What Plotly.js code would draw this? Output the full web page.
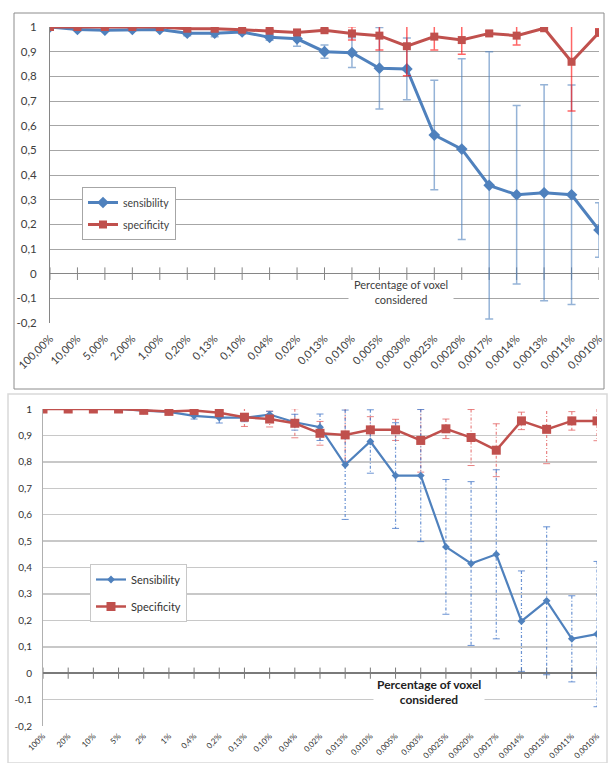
<!DOCTYPE html>
<html>
<head>
<meta charset="utf-8">
<script src="https://cdn.plot.ly/plotly-3.0.1.min.js"></script>
<style>html,body{margin:0;padding:0;background:#fff}#chart{width:608px;height:763px}</style>
</head>
<body>
<div id="chart"></div>
<script>
// ---------- Top chart data ----------
const topCategories = ['100,00%','10,00%','5,00%','2,00%','1,00%','0,20%','0,13%','0,10%','0,04%','0,02%','0,013%','0,010%','0,005%','0,0030%','0,0025%','0,0020%','0,0017%','0,0014%','0,0013%','0,0011%','0,0010%'];
const topSensibility = [1, 0.99, 0.987, 0.99, 0.99, 0.975, 0.975, 0.98, 0.958, 0.952, 0.90, 0.896, 0.833, 0.83, 0.562, 0.505, 0.358, 0.32, 0.328, 0.32, 0.177];
const topSensibilityErr = [0, 0.004, 0.004, 0.004, 0.004, 0.01, 0.015, 0.008, 0.012, 0.03, 0.027, 0.06, 0.165, 0.125, 0.222, 0.366, 0.542, 0.362, 0.438, 0.445, 0.11];
const topSpecificity = [1, 1, 1, 1, 1, 0.993, 0.993, 0.989, 0.985, 0.978, 0.987, 0.974, 0.965, 0.922, 0.961, 0.947, 0.974, 0.965, 0.995, 0.859, 0.978];
const topSpecificityErr = [0, 0, 0, 0, 0, 0.003, 0.003, 0.004, 0.005, 0.01, 0.006, 0.027, 0.058, 0.12, 0.054, 0.057, 0.01, 0.038, 0.004, 0.2, 0.015];

// ---------- Bottom chart data ----------
const botCategories = ['100%','20%','10%','5%','2%','1%','0,4%','0,2%','0,13%','0,10%','0,04%','0,02%','0,013%','0,010%','0,005%','0,003%','0,0025%','0,0020%','0,0017%','0,0014%','0,0013%','0,0011%','0,0010%'];
const botSensibility = [1, 1, 1, 1, 0.994, 0.989, 0.974, 0.967, 0.967, 0.979, 0.95, 0.931, 0.789, 0.877, 0.748, 0.748, 0.478, 0.415, 0.45, 0.197, 0.274, 0.13, 0.148];
const botSensibilityErr = [0, 0, 0, 0, 0.005, 0.008, 0.012, 0.02, 0.015, 0.012, 0.03, 0.05, 0.207, 0.12, 0.2, 0.25, 0.255, 0.31, 0.32, 0.19, 0.28, 0.163, 0.275];
const botSpecificity = [1, 1, 1, 1, 0.995, 0.991, 0.994, 0.986, 0.969, 0.962, 0.946, 0.908, 0.902, 0.921, 0.921, 0.881, 0.925, 0.892, 0.844, 0.955, 0.923, 0.955, 0.955];
const botSpecificityErr = [0, 0, 0, 0, 0.004, 0.005, 0.005, 0.01, 0.035, 0.03, 0.055, 0.045, 0.1, 0.05, 0.04, 0.12, 0.037, 0.106, 0.1, 0.033, 0.13, 0.035, 0.075];

// ---------- Axis tick labels ----------
const yTickVals = [-0.2, -0.1, 0, 0.1, 0.2, 0.3, 0.4, 0.5, 0.6, 0.7, 0.8, 0.9, 1];
const yTickText = ['-0,2', '-0,1', '0', '0,1', '0,2', '0,3', '0,4', '0,5', '0,6', '0,7', '0,8', '0,9', '1'];
const axisTitleLines = ['Percentage of voxel', 'considered'];

const BLUE = '#4F81BD', RED = '#C0504D';
const W = 608, H = 763;
const px = v => v / W, py = v => 1 - v / H;
const FONT = 'Lato, "Open Sans", sans-serif';

function segments(cats, vals, errs) {
  const xs = [], ys = [], cx = [], cy = [];
  for (let i = 0; i < cats.length; i++) {
    if (!errs[i]) continue;
    xs.push(cats[i], cats[i], null);
    ys.push(vals[i] + errs[i], vals[i] - errs[i], null);
    cx.push(cats[i], cats[i]);
    cy.push(vals[i] + errs[i], vals[i] - errs[i]);
  }
  return {xs, ys, cx, cy};
}

const traces = [];
// top: axis tick marks at y = 0
traces.push({x: topCategories, y: topCategories.map(() => 0), xaxis: 'x', yaxis: 'y', mode: 'markers',
  marker: {symbol: 'line-ns-open', size: 9, color: '#868686', line: {color: '#868686', width: 1}}, showlegend: false, hoverinfo: 'skip'});
traces.push({x: topCategories, y: topSensibility, xaxis: 'x', yaxis: 'y', name: 'sensibility', legend: 'legend', legendgroup: 'a',
  mode: 'lines+markers', line: {color: BLUE, width: 3}, marker: {symbol: 'diamond', size: 9, color: BLUE},
  error_y: {type: 'data', array: topSensibilityErr, visible: true, color: 'rgba(79,129,189,0.6)', thickness: 1.5, width: 4}});
traces.push({x: topCategories, y: topSpecificity, xaxis: 'x', yaxis: 'y', name: 'specificity', legend: 'legend', legendgroup: 'b',
  mode: 'lines+markers', line: {color: RED, width: 3}, marker: {symbol: 'square', size: 8, color: RED},
  error_y: {type: 'data', array: topSpecificityErr, visible: true, color: 'rgba(255,0,0,0.6)', thickness: 1.5, width: 4}});

// bottom
traces.push({x: botCategories, y: botCategories.map(() => 0), xaxis: 'x2', yaxis: 'y2', mode: 'markers',
  marker: {symbol: 'line-ns-open', size: 8, color: '#7a7a7a', line: {color: '#7a7a7a', width: 1}}, showlegend: false, hoverinfo: 'skip'});
const sb = segments(botCategories, botSensibility, botSensibilityErr);
const sr = segments(botCategories, botSpecificity, botSpecificityErr);
const RERR = 'rgba(225,90,90,0.75)', BERR = 'rgba(70,120,200,0.8)';
traces.push({x: sr.xs, y: sr.ys, xaxis: 'x2', yaxis: 'y2', mode: 'lines', line: {color: RERR, width: 1.2, dash: '3px,2px,1px,2px'}, showlegend: false, hoverinfo: 'skip'});
traces.push({x: sr.cx, y: sr.cy, xaxis: 'x2', yaxis: 'y2', mode: 'markers', marker: {symbol: 'line-ew-open', size: 5, color: RERR, line: {color: RERR, width: 1}}, showlegend: false, hoverinfo: 'skip'});
traces.push({x: sb.xs, y: sb.ys, xaxis: 'x2', yaxis: 'y2', mode: 'lines', line: {color: BERR, width: 1.2, dash: '3px,2px,1px,2px'}, showlegend: false, hoverinfo: 'skip'});
traces.push({x: sb.cx, y: sb.cy, xaxis: 'x2', yaxis: 'y2', mode: 'markers', marker: {symbol: 'line-ew-open', size: 5, color: BERR, line: {color: BERR, width: 1}}, showlegend: false, hoverinfo: 'skip'});
traces.push({x: botCategories, y: botSensibility, xaxis: 'x2', yaxis: 'y2', name: 'Sensibility', legend: 'legend2', legendgroup: 'c',
  mode: 'lines+markers', line: {color: BLUE, width: 2.2}, marker: {symbol: 'diamond', size: 6, color: BLUE}});
traces.push({x: botCategories, y: botSpecificity, xaxis: 'x2', yaxis: 'y2', name: 'Specificity', legend: 'legend2', legendgroup: 'd',
  mode: 'lines+markers', line: {color: RED, width: 2.5}, marker: {symbol: 'square', size: 9, color: RED}});

const yCommon = {range: [-0.2, 1], tickmode: 'array', tickvals: yTickVals, ticktext: yTickText,
  showgrid: true, showline: true, zeroline: true, ticks: '', fixedrange: true};

const ann = (text, x, y, size, color, extra) => Object.assign({text, xref: 'paper', yref: 'paper', x: px(x), y: py(y),
  xanchor: 'center', yanchor: 'middle', showarrow: false, font: {size, color, family: FONT}}, extra || {});

const layout = {
  width: W, height: H, margin: {l: 0, r: 0, t: 0, b: 0},
  paper_bgcolor: '#fff', plot_bgcolor: '#fff',
  font: {family: FONT, color: '#404040'},
  showlegend: true,
  xaxis: {domain: [px(50), px(599)], anchor: 'y', type: 'category', range: [0, 20],
    showgrid: false, zeroline: false, showline: false, ticks: '', tickangle: -45,
    tickfont: {size: 11, color: '#404040'}, ticklabelstandoff: 6},
  yaxis: Object.assign({}, yCommon, {domain: [py(323), py(27)], anchor: 'x',
    gridcolor: '#A6A6A6', gridwidth: 1, linecolor: '#868686', zerolinecolor: '#868686', zerolinewidth: 1,
    tickfont: {size: 11.5, color: '#404040'}, ticklabelstandoff: 10}),
  xaxis2: {domain: [px(43), px(597)], anchor: 'y2', type: 'category', range: [0, 22],
    showgrid: false, zeroline: false, showline: false, ticks: '', tickangle: -45,
    tickfont: {size: 8, color: '#333'}, ticklabelstandoff: 3},
  yaxis2: Object.assign({}, yCommon, {domain: [py(726), py(409)], anchor: 'x2',
    gridcolor: '#C8C8C8', gridwidth: 1.5, linecolor: '#B0B0B0', zerolinecolor: '#7a7a7a', zerolinewidth: 1.5,
    tickfont: {size: 10, color: '#333'}, ticklabelstandoff: 8}),
  legend: {x: px(82), y: py(187), xanchor: 'left', yanchor: 'top', bgcolor: '#fff', bordercolor: '#A6A6A6', borderwidth: 1,
    font: {size: 10.5, color: '#404040', family: FONT}, traceorder: 'grouped', tracegroupgap: 3, itemwidth: 30},
  legend2: {x: px(90), y: py(564), xanchor: 'left', yanchor: 'top', bgcolor: '#fff', bordercolor: '#C8C8C8', borderwidth: 1,
    font: {size: 11, color: '#333', family: FONT}, traceorder: 'grouped', tracegroupgap: 8, itemwidth: 30},
  annotations: [
    ann(axisTitleLines[0], 401, 285, 11, '#404040'),
    ann(axisTitleLines[1], 401, 299, 11, '#404040', {width: 104, bgcolor: '#fff', borderpad: 0}),
    ann('<b>' + axisTitleLines[0] + '</b>', 429, 684, 12, '#222'),
    ann('<b>' + axisTitleLines[1] + '</b>', 429, 699, 12, '#222', {width: 110, bgcolor: '#fff', borderpad: 0})
  ],
  shapes: [
    {type: 'rect', xref: 'paper', yref: 'paper', x0: px(14), x1: px(604), y0: py(389), y1: py(13), line: {color: '#8C8C8C', width: 1}, layer: 'below'},
    {type: 'rect', xref: 'paper', yref: 'paper', x0: px(8), x1: px(607), y0: py(763), y1: py(394), line: {color: '#D9D9D9', width: 1.5}, layer: 'below'}
  ]
};

Plotly.newPlot('chart', traces, layout, {staticPlot: true, displayModeBar: false});
</script>
</body>
</html>
